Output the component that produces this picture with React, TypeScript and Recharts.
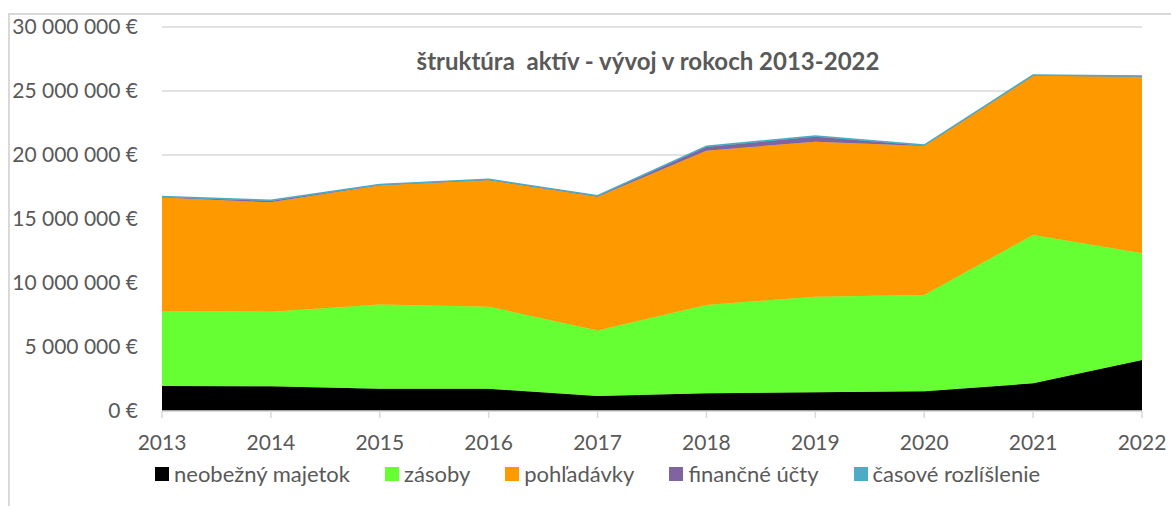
import { AreaChart, Area, XAxis, YAxis, CartesianGrid } from 'recharts'

const years = ['2013', '2014', '2015', '2016', '2017', '2018', '2019', '2020', '2021', '2022']
const neobezny = [1950000, 1930000, 1740000, 1740000, 1170000, 1380000, 1460000, 1540000, 2160000, 3980000]
const zasoby = [5860000, 5830000, 6590000, 6410000, 5110000, 6900000, 7470000, 7520000, 11590000, 8340000]
const pohladavky = [8860000, 8540000, 9300000, 9900000, 10460000, 12060000, 12110000, 11640000, 12450000, 13810000]
const financne = [50000, 130000, 50000, 30000, 50000, 300000, 400000, 50000, 30000, 20000]
const casove = [30000, 30000, 20000, 20000, 30000, 50000, 40000, 30000, 20000, 20000]
const yTicks = [0, 5000000, 10000000, 15000000, 20000000, 25000000, 30000000]

const series = [
  { key: 'neobezny', name: 'neobežný majetok', color: '#000000' },
  { key: 'zasoby', name: 'zásoby', color: '#66ff33' },
  { key: 'pohladavky', name: 'pohľadávky', color: '#ff9900' },
  { key: 'financne', name: 'finančné účty', color: '#8064a2' },
  { key: 'casove', name: 'časové rozlíšlenie', color: '#4bacc6' },
]

const data = years.map((year, i) => ({
  year,
  neobezny: neobezny[i],
  zasoby: zasoby[i],
  pohladavky: pohladavky[i],
  financne: financne[i],
  casove: casove[i],
}))

const FONT = 'Lato, "Open Sans", sans-serif'
const GRAY = '#595959'

const euro = (v: number) => String(v).replace(/\B(?=(\d{3})+(?!\d))/g, ' ') + ' €'

function LegendRow() {
  return (
    <div
      style={{
        position: 'absolute',
        left: 155,
        top: 462,
        display: 'flex',
        fontFamily: FONT,
        fontSize: 22,
        color: GRAY,
        lineHeight: '24px',
        whiteSpace: 'nowrap',
      }}
    >
      {series.map((s) => (
        <div key={s.key} style={{ display: 'flex', alignItems: 'center', marginRight: 35 }}>
          <span style={{ display: 'inline-block', width: 14, height: 14, background: s.color, marginRight: 5 }} />
          <span>{s.name}</span>
        </div>
      ))}
    </div>
  )
}

export default function App() {
  return (
    <div style={{ position: 'absolute', left: 0, top: 0, width: 1171, height: 506, background: '#fff', overflow: 'hidden' }}>
      <div
        style={{
          position: 'absolute',
          left: 8,
          top: 13,
          width: 1200,
          height: 600,
          borderLeft: '2px solid #d9d9d9',
          borderTop: '2px solid #d9d9d9',
        }}
      />
      <AreaChart
        width={1171}
        height={506}
        data={data}
        margin={{ top: 27, right: 29, left: 12, bottom: 65 }}
        style={{ position: 'absolute', left: 0, top: 0 }}
      >
        <CartesianGrid vertical={false} stroke="#d9d9d9" strokeWidth={1.5} />
        <XAxis
          dataKey="year"
          height={30}
          tick={{ fill: GRAY, fontSize: 21, fontFamily: FONT }}
          axisLine={{ stroke: '#d9d9d9', strokeWidth: 1.5 }}
          tickLine={{ stroke: '#d9d9d9', strokeWidth: 1.5 }}
          tickSize={7}
          tickMargin={17}
          interval={0}
        />
        <YAxis
          width={150}
          domain={[0, 30000000]}
          ticks={yTicks}
          tickFormatter={euro}
          tick={{ fill: GRAY, fontSize: 21, fontFamily: FONT }}
          axisLine={false}
          tickLine={false}
          tickSize={0}
          tickMargin={24}
          interval={0}
        />
        {series.map((s) => (
          <Area
            key={s.key}
            type="linear"
            dataKey={s.key}
            name={s.name}
            stackId="1"
            fill={s.color}
            fillOpacity={1}
            stroke={s.color}
            strokeWidth={s.key === 'casove' ? 1.5 : 0.5}
            isAnimationActive={false}
          />
        ))}
      </AreaChart>
      <LegendRow />
      <div
        style={{
          position: 'absolute',
          left: 0,
          top: 47,
          width: 1296,
          textAlign: 'center',
          fontFamily: FONT,
          fontWeight: 700,
          fontSize: 24,
          lineHeight: '28px',
          color: GRAY,
          whiteSpace: 'pre',
        }}
      >
        {'štruktúra  aktív - vývoj v rokoch 2013-2022'}
      </div>
    </div>
  )
}
